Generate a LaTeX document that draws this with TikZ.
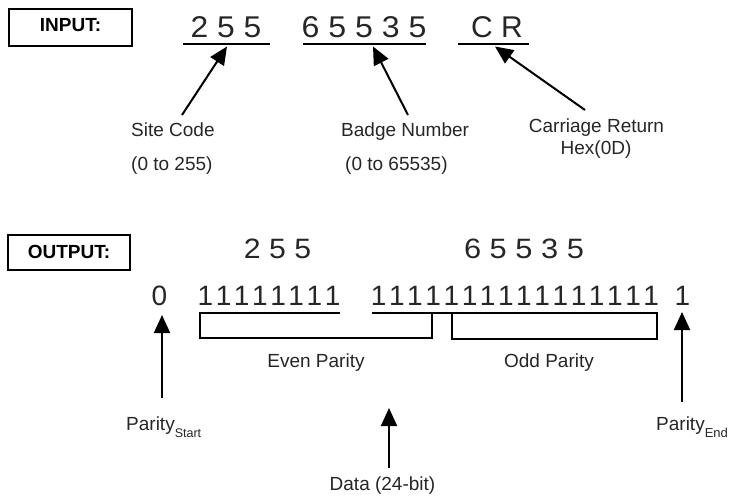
\documentclass[tikz,border=0pt]{standalone}
\usepackage{fontspec}
\setmainfont{Liberation Sans}
\usepackage{graphicx}
\usetikzlibrary{arrows.meta}
\newcommand{\bitgap}{\kern2.6pt}
\begin{document}
\begin{tikzpicture}[x=1pt,y=-1pt,
  lbl/.style={font=\fontsize{19}{22}\selectfont, text=black!85, inner sep=0pt},
  dig/.style={font=\fontsize{30}{34}\selectfont, text=black!85, inner sep=0pt},
  odig/.style={font=\fontsize{28}{32}\selectfont, text=black!85, inner sep=0pt},
  hdr/.style={draw, line width=2pt, minimum width=123pt, minimum height=37pt,
    font=\bfseries\fontsize{19}{22}\selectfont, inner sep=0pt, text height=13.6pt},
  arr/.style={line width=2pt, -{Triangle[length=18pt,width=16pt]}},
  rulel/.style={line width=2pt}]
\useasboundingbox (0,0) rectangle (730,497);

% headers
\node[hdr, text depth=4.6pt] (inbox) at (70.5,27.5) {INPUT:};
\node[hdr, text depth=2.6pt, minimum width=122pt, minimum height=35pt] (outbox) at (69,252.5) {OUTPUT:};

% input fields
\node[dig, anchor=base] (sitenum) at (226,38) {\scalebox{1.06}[1]{2 5 5}};
\node[dig, anchor=base] (badgenum) at (364,38) {\scalebox{1.07}[1]{6 5 5 3 5}};
\node[dig, anchor=base] (crtxt) at (497,38) {C R};

\coordinate (ula) at (183,44.5); \coordinate (ulb) at (270,44.5);
\coordinate (ulc) at (303,44.5); \coordinate (uld) at (426,44.5);
\coordinate (ule) at (458,44.5); \coordinate (ulf) at (529,44.5);
\draw[rulel] (ula) -- (ulb);
\draw[rulel] (ulc) -- (uld);
\draw[rulel] (ule) -- (ulf);

% input labels
\node[lbl, anchor=base west] (site) at (131,137) {Site Code};
\node[lbl, anchor=base west] (siter) at (131,171) {(0 to 255)};
\node[lbl, anchor=base west] (badge) at (341,137) {Badge Number};
\node[lbl, anchor=base west] (badger) at (345,171) {(0 to 65535)};
\node[lbl, anchor=base] (cr) at (596.5,133) {Carriage Return};
\node[lbl, anchor=base] (hex) at (596,155) {Hex(0D)};

\coordinate (t1) at (182,115); \coordinate (h1) at (227,46.5);
\coordinate (t2) at (408,115); \coordinate (h2) at (373,46.5);
\coordinate (t3) at (585,110); \coordinate (h3) at (495,46.5);
\draw[arr] (t1) -- (h1);
\draw[arr] (t2) -- (h2);
\draw[arr] (t3) -- (h3);

% output
\node[odig, anchor=base] (o255) at (277.5,258) {\scalebox{1.08}[1]{2 5 5}};
\node[odig, anchor=base] (o65535) at (524,258) {\scalebox{1.1}[1]{6 5 5 3 5}};
\node[odig, anchor=base] (zero) at (159.5,305) {0};
\node[odig, anchor=base] (bits8) at (269,305)
  {1\bitgap1\bitgap1\bitgap1\bitgap1\bitgap1\bitgap1\bitgap1};
\node[odig, anchor=base] (bits16) at (515,305)
  {1\bitgap1\bitgap1\bitgap1\bitgap1\bitgap1\bitgap1\bitgap1\bitgap1\bitgap1\bitgap1\bitgap1\bitgap1\bitgap1\bitgap1\bitgap1};
\node[odig, anchor=base] (one) at (682.5,305) {1};

% parity brackets
\draw[rulel] (340,313) -- (200,313) -- (200,338) -- (432,338) -- (432,313);
\draw[rulel] (372,313) -- (657,313) -- (657,339) -- (452,339) -- (452,313);
\node[lbl, anchor=base] (even) at (316,367) {Even Parity};
\node[lbl, anchor=base] (odd) at (549,367) {Odd Parity};

% output labels and arrows
\node[lbl, anchor=base west] (pstart) at (126,430) {Parity\raisebox{-7pt}{\fontsize{12.5}{14}\selectfont Start}};
\node[lbl, anchor=base west] (pend) at (656,430) {Parity\raisebox{-7pt}{\fontsize{13}{14}\selectfont End}};
\node[lbl, anchor=base] (data) at (382.5,490) {Data (24-bit)};

\coordinate (a1t) at (162,398); \coordinate (a1h) at (162,315);
\coordinate (a2t) at (389,468); \coordinate (a2h) at (389,408);
\coordinate (a3t) at (682,402); \coordinate (a3h) at (682,312);
\draw[arr] (a1t) -- (a1h);
\draw[arr] (a2t) -- (a2h);
\draw[arr] (a3t) -- (a3h);
\end{tikzpicture}
\end{document}
